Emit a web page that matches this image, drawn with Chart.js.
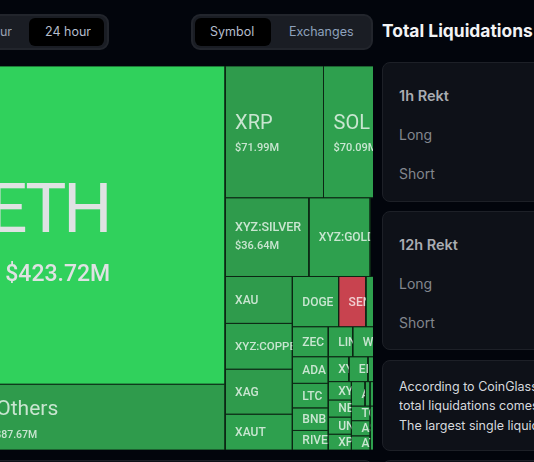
<!DOCTYPE html>
<html>
<head>
<meta charset="utf-8">
<title>Liquidation heatmap</title>
<script src="https://cdn.jsdelivr.net/npm/chart.js@4/dist/chart.umd.min.js"></script>
<style>
    html, body { margin: 0; width: 534px; height: 462px; overflow: hidden; background: #02050c; font-family: Inter, "Noto Sans", sans-serif; }
    .box { position: absolute; box-sizing: border-box; white-space: nowrap; overflow: hidden; }
    .toggle { background: #1a1d24; border: 2px solid #22252c; border-radius: 9px; top: 14px; height: 36px; }
    .active { background: #000; border-radius: 6px; top: 18px; height: 28px; }
    .btn { font-size: 12.5px; top: 23px; line-height: 18px; color: #b4bccb; }
    .panel { background: #0e1118; border: 1px solid #1d2027; border-radius: 8px; left: 382px; width: 170px; }
    .row { left: 399px; font-size: 14px; line-height: 18px; color: #83878e; }
    .head { font-size: 14.5px; font-weight: 600; color: #a9acb2; }
    .note { left: 399px; width: 135px; font-size: 12.5px; line-height: 18px; color: #d6d9de; }
    #chartWrap { position: absolute; left: 0; top: 66px; width: 373px; height: 384px; }
</style>
</head>
<body>
<div class="box toggle" style="left:-40px;width:149px"></div>
<div class="box active" style="left:29px;width:75px"></div>
<div class="box btn" style="left:-16px;width:28px;text-align:right;color:#9aa2b1">hour</div>
<div class="box btn" style="left:45px">24 hour</div>
<div class="box toggle" style="left:191px;width:182px"></div>
<div class="box active" style="left:195px;width:76px"></div>
<div class="box btn" style="left:210px">Symbol</div>
<div class="box btn" style="left:289px;color:#8ea2bd">Exchanges</div>
<div class="box" style="left:382px;top:20px;width:152px;font-size:17.4px;line-height:22px;font-weight:700;color:#f2f3f5">Total Liquidations</div>

<div class="box panel" style="top:62px;height:140px"></div>
<div class="box row head" style="top:87px">1h Rekt</div>
<div class="box row" style="top:126px">Long</div>
<div class="box row" style="top:165px">Short</div>
<div class="box panel" style="top:211px;height:139px"></div>
<div class="box row head" style="top:236px">12h Rekt</div>
<div class="box row" style="top:275px">Long</div>
<div class="box row" style="top:314px">Short</div>
<div class="box panel" style="top:360px;height:91px"></div>
<div class="box note" style="top:378px">According to CoinGlass data,</div>
<div class="box note" style="top:397px">total liquidations comes</div>
<div class="box note" style="top:417px">The largest single liquidation</div>
<div class="box panel" style="top:460px;height:20px"></div>
<div class="box panel" style="top:460px;left:-10px;width:383px;height:20px"></div>

<div id="chartWrap"><canvas id="chart" width="373" height="384"></canvas></div>

<script>
// cells past the right edge of the crop have no readable name, they start with "_"
const symbols = [
    "ETH", "Others", "XRP", "SOL", "XYZ:SILVER", "XYZ:GOLD", "_a",
    "XAU", "XYZ:COPPER", "XAG", "XAUT", "DOGE", "SEN", "_b",
    "ZEC", "ADA", "LTC", "BNB", "RIVER", "LINK", "WLD",
    "XYZ", "ENA", "_c", "XYZ2", "NEAR", "UNI", "XPL",
    "AAVE", "_d", "_e", "TON", "ASTER", "ATOM", "_f",
];
const values = [
    423.72, 87.67, 71.99, 70.09, 36.64, 26.8, 21.5,
    17.5, 17.1, 16.8, 13.4, 12.9, 7.6, 14.9,
    5.98, 5.3, 4.9, 4.5, 3.9, 4.08, 11.1,
    2.85, 2.64, 7.1, 2.36, 2.2, 2.2, 2.04,
    1.84, 0.68, 6.68, 1.53, 1.58, 1.48, 12,
];
const shortValues = ["ETH", "Others", "XRP", "SOL", "XYZ:SILVER"];
const valueLabels = ["$423.72M", "$87.67M", "$71.99M", "$70.09M", "$36.64M"];

// nesting only: h = side by side, v = stacked
const layoutTree = { h: [
    { v: ["ETH", "Others"] },
    { v: [
        { h: ["XRP", "SOL"] },
        { h: ["XYZ:SILVER", "XYZ:GOLD", "_a"] },
        { h: [
            { v: ["XAU", "XYZ:COPPER", "XAG", "XAUT"] },
            { v: [
                { h: ["DOGE", "SEN", "_b"] },
                { h: [
                    { v: ["ZEC", "ADA", "LTC", "BNB", "RIVER"] },
                    { v: [
                        { h: ["LINK", "WLD"] },
                        { h: ["XYZ", "ENA", "_c"] },
                        { h: [
                            { v: ["XYZ2", "NEAR", "UNI", "XPL"] },
                            { v: [
                                { h: ["AAVE", "_d", "_e"] },
                                { h: [{ v: ["TON", "ASTER", "ATOM"] }, "_f"] },
                            ] },
                        ] },
                    ] },
                ] },
            ] },
        ] },
    ] },
] };

const labelStyles = {
    ETH: { size: 69, spacing: "-3px", valueSize: 23, pad: 3, valuePad: 20, dy: -10, valueDy: 50 },
    Others: { size: 21, valueSize: 10.5, pad: 11, valuePad: 10, dy: -7, valueDy: 18 },
    XRP: { size: 20, valueSize: 11, pad: 10, valuePad: 10, dy: -8, valueDy: 16 },
    SOL: { size: 20, valueSize: 11, pad: 10, valuePad: 10, dy: -8, valueDy: 16 },
    "XYZ:SILVER": { size: 12.5, valueSize: 11, pad: 10, valuePad: 10, dy: -9, valueDy: 9 },
    "XYZ:COPPER": { size: 11.5, pad: 10, dy: 1 },
};
const defaultLabel = { size: 12, pad: 10, dy: 1 };

function cellValue(node) {
    if (typeof node === "string") return values[symbols.indexOf(node)];
    return (node.h || node.v).reduce((sum, child) => sum + cellValue(child), 0);
}

// every cell's area follows its value
function layoutCells(node, x0, y0, x1, y1, cells) {
    if (typeof node === "string") {
        cells.push({ name: node, x0, y0, x1, y1 });
        return cells;
    }
    const children = node.h || node.v;
    const total = cellValue(node);
    let start = 0;
    children.forEach((child) => {
        const end = start + cellValue(child) / total;
        if (node.h) {
            layoutCells(child, x0 + (x1 - x0) * start, y0, x0 + (x1 - x0) * end, y1, cells);
        } else {
            layoutCells(child, x0, y0 + (y1 - y0) * start, x1, y0 + (y1 - y0) * end, cells);
        }
        start = end;
    });
    return cells;
}

const cells = layoutCells(layoutTree, 0, 0, 1, 1, []);

function cellColor(name) {
    if (name === "ETH") return "#30d15c";
    if (name === "SEN") return "#c8434f";
    if (name === "_a") return "#02050c"; // the reference shows only page background here
    if (name === "Others" || name === "XRP" || name === "XYZ:SILVER" || name === "XAU" || name === "XAG") return "#2f9b4c";
    return "#2ea04e";
}

const cellLabels = {
    id: "cellLabels",
    afterDatasetsDraw(chart) {
        const { ctx, chartArea, scales } = chart;
        cells.forEach((cell) => {
            if (cell.name[0] === "_") return;
            const left = scales.x.getPixelForValue(cell.x0);
            const right = scales.x.getPixelForValue(cell.x1);
            const top = scales.y.getPixelForValue(cell.y0);
            const bottom = scales.y.getPixelForValue(cell.y1);
            const style = labelStyles[cell.name] || defaultLabel;
            const middle = (top + bottom) / 2;

            ctx.save();
            ctx.beginPath();
            ctx.rect(left, top, Math.min(right, chartArea.right) - left, bottom - top);
            ctx.clip();
            ctx.fillStyle = cell.name === "ETH" ? "#dfe2e3" : "rgba(255,255,255,0.74)";
            ctx.textBaseline = "middle";
            ctx.font = (style.size < 15 ? "500 " : "") + style.size + "px Roboto";
            ctx.letterSpacing = style.spacing || "0px";
            ctx.fillText(cell.name.replace("XYZ2", "XYZ"), left + style.pad, middle + style.dy);
            ctx.letterSpacing = "0px";
            const valueIndex = shortValues.indexOf(cell.name);
            if (valueIndex >= 0) {
                ctx.font = "500 " + style.valueSize + "px Roboto";
                ctx.fillText(valueLabels[valueIndex], left + style.valuePad, middle + style.valueDy);
            }
            ctx.restore();
        });
    },
};

new Chart(document.getElementById("chart"), {
    type: "scatter",
    data: {
        datasets: cells.map((cell) => ({
            label: cell.name,
            showLine: true,
            fill: "shape",
            backgroundColor: cellColor(cell.name),
            borderColor: "#0c2614",
            borderWidth: 1,
            pointRadius: 0,
            tension: 0,
            data: [
                { x: cell.x0, y: cell.y0 },
                { x: cell.x1, y: cell.y0 },
                { x: cell.x1, y: cell.y1 },
                { x: cell.x0, y: cell.y1 },
                { x: cell.x0, y: cell.y0 },
            ],
        })),
    },
    options: {
        responsive: false,
        animation: false,
        layout: { padding: 0 },
        plugins: { legend: { display: false }, tooltip: { enabled: false } },
        scales: {
            x: { type: "linear", display: false, min: 0.0339, max: 0.8933 },
            y: { type: "linear", display: false, min: 0, max: 1, reverse: true },
        },
    },
    plugins: [cellLabels],
});
</script>
</body>
</html>
